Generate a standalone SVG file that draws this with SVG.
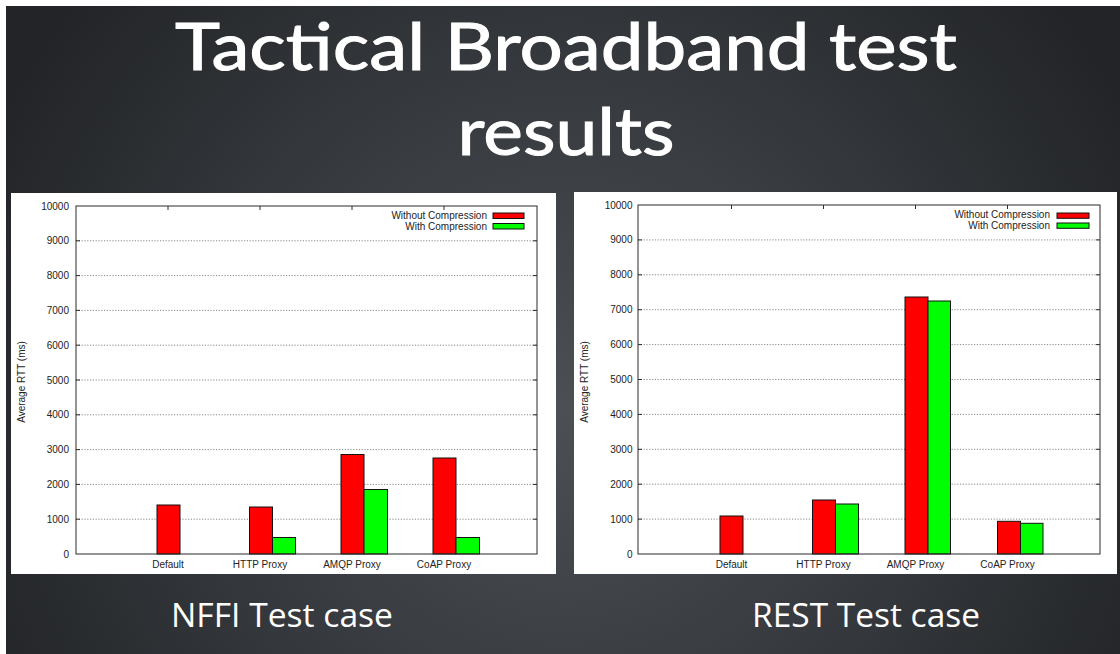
<svg xmlns="http://www.w3.org/2000/svg" width="1120" height="654" viewBox="0 0 1120 654">
  <defs>
    <radialGradient id="bg" gradientUnits="userSpaceOnUse" cx="565" cy="410" r="640">
      <stop offset="0" stop-color="#4c4f54"/>
      <stop offset="0.55" stop-color="#35383c"/>
      <stop offset="1" stop-color="#222427"/>
    </radialGradient>
  </defs>
  <style>
    .title { font-family: "Lato", "Open Sans", "Liberation Sans", sans-serif; font-size: 66px; fill: #ffffff; stroke: #ffffff; stroke-width: 1; }
    .caption { font-family: "Open Sans", "Noto Sans", "Liberation Sans", sans-serif; font-size: 32px; fill: #ffffff; }
    .panel { fill: #ffffff; }
    .frame { fill: none; stroke: #2a2a2a; stroke-width: 1; }
    .grid { stroke: #7a7a7a; stroke-width: 0.9; stroke-dasharray: 1.2 1.6; }
    .tick { stroke: #2a2a2a; stroke-width: 1; }
    .lbl { font-family: "Liberation Sans", Arial, sans-serif; font-size: 10px; fill: #222222; }
    .ylbl { text-anchor: end; }
    .xlbl { text-anchor: middle; }
    .red { fill: #ff0000; stroke: #111111; stroke-width: 1; }
    .green { fill: #00ff00; stroke: #111111; stroke-width: 1; }
  </style>

  <!-- slide background with thin white margin at top and left -->
  <rect x="0" y="0" width="1120" height="654" fill="#ffffff"/>
  <rect x="6" y="6" width="1114" height="648" fill="url(#bg)"/>

  <g id="title">
    <text class="title" x="566" y="70" text-anchor="middle" textLength="782" lengthAdjust="spacingAndGlyphs">Tactical Broadband test</text>
    <text class="title" x="566" y="155" text-anchor="middle" textLength="217" lengthAdjust="spacingAndGlyphs">results</text>
  </g>

  <!-- NFFI chart -->
  <g id="chart-nffi">
    <rect class="panel" x="11" y="193" width="545" height="381"/>
    <g id="nffi-grid">
      <line class="grid" x1="76" y1="519.2" x2="537" y2="519.2"/>
      <line class="grid" x1="76" y1="484.4" x2="537" y2="484.4"/>
      <line class="grid" x1="76" y1="449.6" x2="537" y2="449.6"/>
      <line class="grid" x1="76" y1="414.8" x2="537" y2="414.8"/>
      <line class="grid" x1="76" y1="380" x2="537" y2="380"/>
      <line class="grid" x1="76" y1="345.2" x2="537" y2="345.2"/>
      <line class="grid" x1="76" y1="310.4" x2="537" y2="310.4"/>
      <line class="grid" x1="76" y1="275.6" x2="537" y2="275.6"/>
      <line class="grid" x1="76" y1="240.8" x2="537" y2="240.8"/>
    </g>
    <g id="nffi-ticks">
      <line class="tick" x1="76" y1="519.2" x2="80" y2="519.2"/><line class="tick" x1="533" y1="519.2" x2="537" y2="519.2"/>
      <line class="tick" x1="76" y1="484.4" x2="80" y2="484.4"/><line class="tick" x1="533" y1="484.4" x2="537" y2="484.4"/>
      <line class="tick" x1="76" y1="449.6" x2="80" y2="449.6"/><line class="tick" x1="533" y1="449.6" x2="537" y2="449.6"/>
      <line class="tick" x1="76" y1="414.8" x2="80" y2="414.8"/><line class="tick" x1="533" y1="414.8" x2="537" y2="414.8"/>
      <line class="tick" x1="76" y1="380" x2="80" y2="380"/><line class="tick" x1="533" y1="380" x2="537" y2="380"/>
      <line class="tick" x1="76" y1="345.2" x2="80" y2="345.2"/><line class="tick" x1="533" y1="345.2" x2="537" y2="345.2"/>
      <line class="tick" x1="76" y1="310.4" x2="80" y2="310.4"/><line class="tick" x1="533" y1="310.4" x2="537" y2="310.4"/>
      <line class="tick" x1="76" y1="275.6" x2="80" y2="275.6"/><line class="tick" x1="533" y1="275.6" x2="537" y2="275.6"/>
      <line class="tick" x1="76" y1="240.8" x2="80" y2="240.8"/><line class="tick" x1="533" y1="240.8" x2="537" y2="240.8"/>
      <line class="tick" x1="168" y1="206" x2="168" y2="210"/><line class="tick" x1="260" y1="206" x2="260" y2="210"/>
      <line class="tick" x1="352" y1="206" x2="352" y2="210"/><line class="tick" x1="444" y1="206" x2="444" y2="210"/>
    </g>
    <g id="nffi-bars">
      <rect class="red" x="157" y="505" width="23" height="49"/>
      <rect class="red" x="249.5" y="507" width="23" height="47"/>
      <rect class="green" x="272.5" y="537.5" width="23" height="16.5"/>
      <rect class="red" x="341" y="454.5" width="23" height="99.5"/>
      <rect class="green" x="364" y="489.5" width="23.5" height="64.5"/>
      <rect class="red" x="433" y="458" width="23" height="96"/>
      <rect class="green" x="456" y="537.5" width="23.5" height="16.5"/>
    </g>
    <rect class="frame" x="76" y="206" width="461" height="348"/>
    <g id="nffi-yaxis" class="lbl ylbl">
      <text x="69" y="557.5">0</text>
      <text x="69" y="522.7">1000</text>
      <text x="69" y="487.9">2000</text>
      <text x="69" y="453.1">3000</text>
      <text x="69" y="418.3">4000</text>
      <text x="69" y="383.5">5000</text>
      <text x="69" y="348.7">6000</text>
      <text x="69" y="313.9">7000</text>
      <text x="69" y="279.1">8000</text>
      <text x="69" y="244.3">9000</text>
      <text x="69" y="209.5">10000</text>
    </g>
    <text class="lbl xlbl" transform="translate(24.5 382) rotate(-90)">Average RTT (ms)</text>
    <g id="nffi-xaxis" class="lbl xlbl">
      <text x="168" y="568">Default</text>
      <text x="260" y="568">HTTP Proxy</text>
      <text x="352" y="568">AMQP Proxy</text>
      <text x="444" y="568">CoAP Proxy</text>
    </g>
    <g id="nffi-legend">
      <text class="lbl ylbl" x="487" y="219">Without Compression</text>
      <text class="lbl ylbl" x="487" y="229.5">With Compression</text>
      <rect class="red" x="493" y="213" width="31" height="5.5"/>
      <rect class="green" x="493" y="223.5" width="31" height="5.5"/>
    </g>
  </g>

  <!-- REST chart -->
  <g id="chart-rest">
    <rect class="panel" x="574" y="192" width="543" height="382"/>
    <g id="rest-grid">
      <line class="grid" x1="638" y1="519.1" x2="1100" y2="519.1"/>
      <line class="grid" x1="638" y1="484.2" x2="1100" y2="484.2"/>
      <line class="grid" x1="638" y1="449.3" x2="1100" y2="449.3"/>
      <line class="grid" x1="638" y1="414.4" x2="1100" y2="414.4"/>
      <line class="grid" x1="638" y1="379.5" x2="1100" y2="379.5"/>
      <line class="grid" x1="638" y1="344.6" x2="1100" y2="344.6"/>
      <line class="grid" x1="638" y1="309.7" x2="1100" y2="309.7"/>
      <line class="grid" x1="638" y1="274.8" x2="1100" y2="274.8"/>
      <line class="grid" x1="638" y1="239.9" x2="1100" y2="239.9"/>
    </g>
    <g id="rest-ticks">
      <line class="tick" x1="638" y1="519.1" x2="642" y2="519.1"/><line class="tick" x1="1096" y1="519.1" x2="1100" y2="519.1"/>
      <line class="tick" x1="638" y1="484.2" x2="642" y2="484.2"/><line class="tick" x1="1096" y1="484.2" x2="1100" y2="484.2"/>
      <line class="tick" x1="638" y1="449.3" x2="642" y2="449.3"/><line class="tick" x1="1096" y1="449.3" x2="1100" y2="449.3"/>
      <line class="tick" x1="638" y1="414.4" x2="642" y2="414.4"/><line class="tick" x1="1096" y1="414.4" x2="1100" y2="414.4"/>
      <line class="tick" x1="638" y1="379.5" x2="642" y2="379.5"/><line class="tick" x1="1096" y1="379.5" x2="1100" y2="379.5"/>
      <line class="tick" x1="638" y1="344.6" x2="642" y2="344.6"/><line class="tick" x1="1096" y1="344.6" x2="1100" y2="344.6"/>
      <line class="tick" x1="638" y1="309.7" x2="642" y2="309.7"/><line class="tick" x1="1096" y1="309.7" x2="1100" y2="309.7"/>
      <line class="tick" x1="638" y1="274.8" x2="642" y2="274.8"/><line class="tick" x1="1096" y1="274.8" x2="1100" y2="274.8"/>
      <line class="tick" x1="638" y1="239.9" x2="642" y2="239.9"/><line class="tick" x1="1096" y1="239.9" x2="1100" y2="239.9"/>
      <line class="tick" x1="731.5" y1="205" x2="731.5" y2="209"/><line class="tick" x1="823.5" y1="205" x2="823.5" y2="209"/>
      <line class="tick" x1="915.5" y1="205" x2="915.5" y2="209"/><line class="tick" x1="1007.5" y1="205" x2="1007.5" y2="209"/>
    </g>
    <g id="rest-bars">
      <rect class="red" x="720" y="516" width="23" height="38"/>
      <rect class="red" x="812.5" y="500" width="23" height="54"/>
      <rect class="green" x="835.5" y="504" width="23" height="50"/>
      <rect class="red" x="905" y="297" width="23" height="257"/>
      <rect class="green" x="928" y="301" width="22.5" height="253"/>
      <rect class="red" x="997.5" y="521.3" width="23" height="32.7"/>
      <rect class="green" x="1020.5" y="523.3" width="22.5" height="30.7"/>
    </g>
    <rect class="frame" x="638" y="205" width="462" height="349"/>
    <g id="rest-yaxis" class="lbl ylbl">
      <text x="632.5" y="557.5">0</text>
      <text x="632.5" y="522.6">1000</text>
      <text x="632.5" y="487.7">2000</text>
      <text x="632.5" y="452.8">3000</text>
      <text x="632.5" y="417.9">4000</text>
      <text x="632.5" y="383">5000</text>
      <text x="632.5" y="348.1">6000</text>
      <text x="632.5" y="313.2">7000</text>
      <text x="632.5" y="278.3">8000</text>
      <text x="632.5" y="243.4">9000</text>
      <text x="632.5" y="208.5">10000</text>
    </g>
    <text class="lbl xlbl" transform="translate(587.5 382) rotate(-90)">Average RTT (ms)</text>
    <g id="rest-xaxis" class="lbl xlbl">
      <text x="731.5" y="568">Default</text>
      <text x="823.5" y="568">HTTP Proxy</text>
      <text x="915.5" y="568">AMQP Proxy</text>
      <text x="1007.5" y="568">CoAP Proxy</text>
    </g>
    <g id="rest-legend">
      <text class="lbl ylbl" x="1050" y="218.3">Without Compression</text>
      <text class="lbl ylbl" x="1050" y="228.5">With Compression</text>
      <rect class="red" x="1057" y="213" width="32" height="5.3"/>
      <rect class="green" x="1057" y="223" width="32" height="5.3"/>
    </g>
  </g>

  <g id="captions">
    <text class="caption" x="282" y="627" text-anchor="middle" textLength="222" lengthAdjust="spacingAndGlyphs">NFFI Test case</text>
    <text class="caption" x="866" y="627" text-anchor="middle" textLength="228" lengthAdjust="spacingAndGlyphs">REST Test case</text>
  </g>
</svg>
